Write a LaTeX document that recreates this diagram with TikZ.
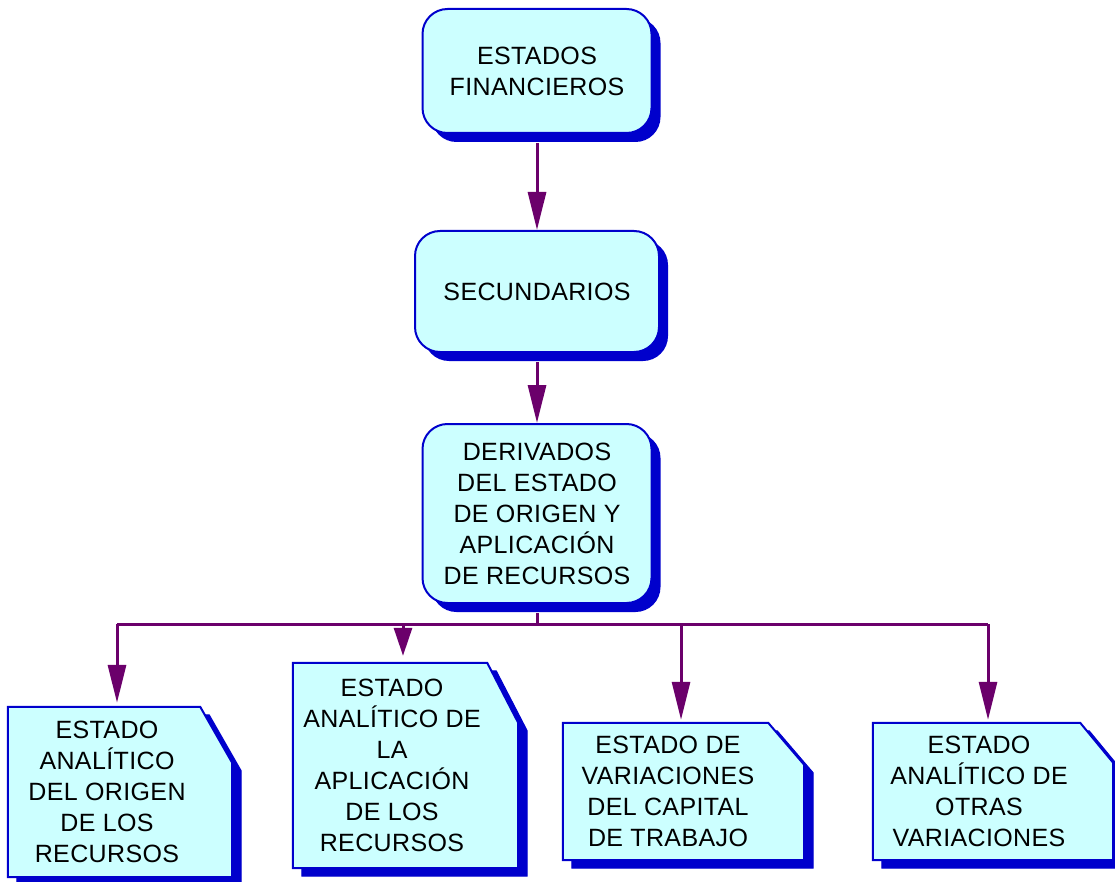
\documentclass[tikz,border=0pt]{standalone}
\usepackage{fontspec}
\setmainfont{Liberation Sans}[LetterSpace=1.5]
\usetikzlibrary{arrows.meta,shadows,calc}
\definecolor{fillc}{HTML}{CCFFFF}
\definecolor{edgec}{HTML}{0000CC}
\definecolor{arrc}{HTML}{6B006B}
\newcommand\docshape[3]{%
  \filldraw[docshadow] ($(#1.north west)+(9,8)$) -- ($(#1.north east)+(9-#2,8)$) -- ($(#1.north east)+(9,8+#3)$) -- ($(#1.south east)+(9,8)$) -- ($(#1.south west)+(9,8)$) -- cycle;
  \filldraw[docfront] (#1.north west) -- ($(#1.north east)+(-#2,0)$) -- ($(#1.north east)+(0,#3)$) -- (#1.south east) -- (#1.south west) -- cycle;
}
\begin{document}
\begin{tikzpicture}[x=1pt,y=-1pt,
  every node/.style={font=\fontsize{25}{31}\selectfont, align=center},
  rbox/.style={draw=edgec, line width=2pt, fill=fillc, rounded corners=25pt, inner sep=0pt,
    drop shadow={shadow xshift=9pt, shadow yshift=-9pt, fill=edgec, opacity=1}},
  frame/.style={inner sep=0pt, draw=none},
  docshadow/.style={fill=edgec, draw=edgec, line width=1pt},
  docfront/.style={fill=fillc, draw=edgec, line width=2pt, line join=miter},
  conn/.style={draw=arrc, line width=3pt},
  arr/.style={conn, -{Triangle[length=38pt,width=18pt]}},
]
\useasboundingbox (0,0) rectangle (1115,882);
\clip (0,0) rectangle (1115,882);

% main boxes
\node[rbox, minimum width=229pt, minimum height=124pt] (b1) at (537,71) {ESTADOS\\FINANCIEROS};
\node[rbox, minimum width=244pt, minimum height=121pt] (b2) at (537,291.5) {SECUNDARIOS};
\node[rbox, minimum width=229pt, minimum height=179pt] (b3) at (537,513.5) {DERIVADOS\\DEL ESTADO\\DE ORIGEN Y\\APLICACIÓN\\DE RECURSOS};

% document frames
\node[frame, minimum width=224pt, minimum height=170pt] (d1) at (120,792) {};
\node[frame, minimum width=225pt, minimum height=205pt] (d2) at (405.5,765.5) {};
\node[frame, minimum width=241pt, minimum height=137pt] (d3) at (683.5,791.5) {};
\node[frame, minimum width=240pt, minimum height=137pt] (d4) at (993,791.5) {};
\docshape{d1}{32}{56}
\docshape{d2}{31}{60}
\docshape{d3}{36}{42}
\docshape{d4}{33}{40}

% document texts
\node (t1) at (107,792) {ESTADO\\ANALÍTICO\\DEL ORIGEN\\DE LOS\\RECURSOS};
\node (t2) at (392,765.5) {ESTADO\\ANALÍTICO DE\\LA\\APLICACIÓN\\DE LOS\\RECURSOS};
\node (t3) at (668,791.5) {ESTADO DE\\VARIACIONES\\DEL CAPITAL\\DE TRABAJO};
\node (t4) at (979,791.5) {ESTADO\\ANALÍTICO DE\\OTRAS\\VARIACIONES};

% connectors
\draw[arr] ($(b1.south)+(0,9)$) -- (b2.north);
\draw[arr] ($(b2.south)+(0,9)$) -- (b3.north);

\coordinate (bus) at (537,624);
\coordinate (j1) at (117,624);
\coordinate (j2) at (403,624);
\coordinate (j3) at (681,624);
\coordinate (j4) at (988,624);
\draw[conn] (j1) -- (j4);
\draw[conn] ($(b3.south)+(0,9)$) -- (bus);
\draw[arr, shorten >=4pt] (j1) -- (j1 |- d1.north);
\draw[conn, -{Triangle[length=28pt,width=18pt]}, shorten >=7pt] (j2) -- (j2 |- d2.north);
\draw[arr, shorten >=3pt] (j3) -- (j3 |- d3.north);
\draw[arr, shorten >=3pt] (j4) -- (j4 |- d4.north);
\end{tikzpicture}
\end{document}
